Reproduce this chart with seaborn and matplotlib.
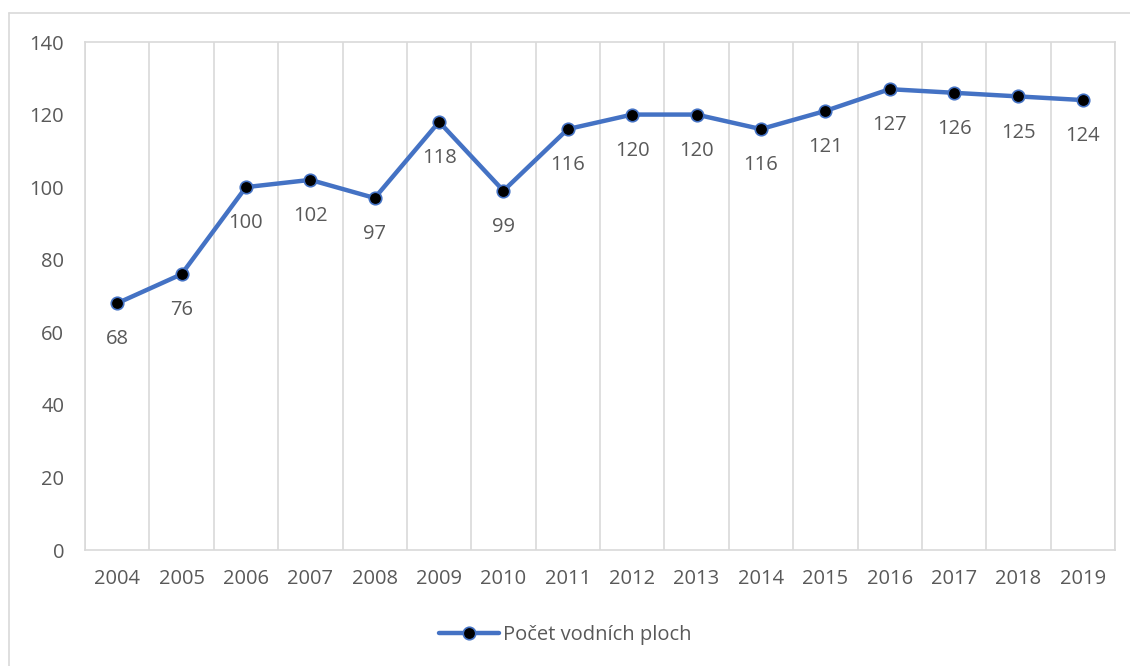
import numpy as np
import pandas as pd
import matplotlib
matplotlib.use("Agg")
import matplotlib.pyplot as plt
import seaborn as sns
from matplotlib.lines import Line2D

years = ["2004", "2005", "2006", "2007", "2008", "2009", "2010", "2011",
         "2012", "2013", "2014", "2015", "2016", "2017", "2018", "2019"]
values = [68, 76, 100, 102, 97, 118, 99, 116, 120, 120, 116, 121, 127, 126, 125, 124]
series_name = "Počet vodních ploch"
y_ticks = [0, 20, 40, 60, 80, 100, 120, 140]

sns.set_theme(style="white")
plt.rcParams['font.family'] = ['Open Sans', 'DejaVu Sans']

TXT = "#595959"
GRID = "#D9D9D9"
BLUE = "#4472C4"
FS = 14.5

df = pd.DataFrame({"pos": np.arange(len(years)), "value": values, "year": years})

fig = plt.figure(figsize=(11.30, 6.66), dpi=100)
ax = fig.add_axes([85/1130, 1 - 550/666, (1115 - 85)/1130, (550 - 42)/666])

sns.lineplot(data=df, x="pos", y="value", ax=ax, color=BLUE, linewidth=3.2,
             marker="o", markersize=9, markerfacecolor="black",
             markeredgecolor=BLUE, markeredgewidth=1.2, legend=False)

ax.set_xlim(-0.5, len(years) - 0.5)
ax.set_ylim(0, 140)
ax.set_yticks(y_ticks)
ax.set_yticklabels([str(t) for t in y_ticks], fontsize=FS, color=TXT)
ax.set_xticks(df["pos"])
ax.set_xticklabels(years, fontsize=FS, color=TXT)
ax.set_xticks(np.arange(-0.5, len(years), 1.0), minor=True)
ax.grid(False)
ax.grid(True, which="minor", axis="x", color=GRID, linewidth=1.2)
ax.tick_params(axis="both", which="both", length=0)
ax.tick_params(axis="x", pad=14)
ax.tick_params(axis="y", pad=15)
ax.set_xlabel("")
ax.set_ylabel("")
for s in ax.spines.values():
    s.set_color(GRID)
    s.set_linewidth(1.2)
ax.set_axisbelow(True)

for p, v in zip(df["pos"], values):
    ax.annotate(str(v), (p, v), xytext=(0, -26), textcoords="offset points",
                ha="center", va="center", fontsize=FS, color=TXT)

handle = Line2D([], [], color=BLUE, linewidth=3.2, marker="o", markersize=9,
                markerfacecolor="black", markeredgecolor=BLUE, markeredgewidth=1.2)
fig.legend([handle], [series_name], loc="center", bbox_to_anchor=(0.5, 1 - 635/666),
           frameon=False, fontsize=FS, labelcolor=TXT, handlelength=3.0,
           handletextpad=0.2)

# outer chart border
fig.add_artist(Line2D([9/1130, 9/1130], [0, 1 - 13/666], transform=fig.transFigure,
                      color=GRID, linewidth=1.2))
fig.add_artist(Line2D([9/1130, 1], [1 - 13/666, 1 - 13/666], transform=fig.transFigure,
                      color=GRID, linewidth=1.2))

fig.savefig("out.png", dpi=100)
